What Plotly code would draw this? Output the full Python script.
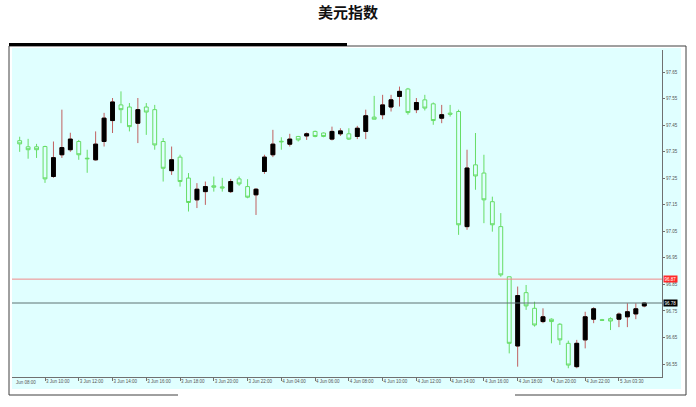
import plotly.graph_objects as go

# ---- data (30-minute bars) ----
opens = [97.392, 97.369, 97.369, 97.370, 97.257, 97.339, 97.358, 97.389, 97.326, 97.320,
         97.389, 97.468, 97.527, 97.519, 97.458, 97.519, 97.509, 97.389, 97.279, 97.330,
         97.251, 97.169, 97.200, 97.222, 97.218, 97.200, 97.248, 97.219, 97.188, 97.276,
         97.339, 97.390, 97.379, 97.408, 97.410, 97.427, 97.421, 97.398, 97.418, 97.418,
         97.408, 97.427, 97.481, 97.490, 97.519, 97.559, 97.587, 97.509, 97.546, 97.531,
         97.477, 97.496, 97.502, 97.068, 97.301, 97.270, 97.162, 97.068, 96.879, 96.618,
         96.819, 96.760, 96.710, 96.719, 96.700, 96.628, 96.540, 96.641, 96.719, 96.717,
         96.721, 96.719, 96.728, 96.739, 96.769]
highs = [97.407, 97.399, 97.380, 97.373, 97.389, 97.509, 97.422, 97.395, 97.358, 97.427,
         97.497, 97.553, 97.578, 97.534, 97.553, 97.534, 97.527, 97.402, 97.370, 97.339,
         97.270, 97.232, 97.238, 97.257, 97.252, 97.248, 97.257, 97.247, 97.213, 97.339,
         97.433, 97.405, 97.418, 97.410, 97.423, 97.430, 97.423, 97.445, 97.439, 97.439,
         97.448, 97.509, 97.561, 97.565, 97.565, 97.596, 97.591, 97.553, 97.565, 97.536,
         97.527, 97.527, 97.509, 97.358, 97.421, 97.339, 97.181, 97.119, 96.879, 96.842,
         96.848, 96.785, 96.760, 96.722, 96.704, 96.638, 96.641, 96.747, 96.764, 96.720,
         96.726, 96.744, 96.779, 96.779, 96.782]
lows = [97.350, 97.324, 97.327, 97.233, 97.252, 97.327, 97.350, 97.320, 97.271, 97.317,
        97.370, 97.421, 97.458, 97.427, 97.383, 97.414, 97.358, 97.238, 97.263, 97.219,
        97.125, 97.138, 97.150, 97.200, 97.200, 97.195, 97.222, 97.175, 97.112, 97.267,
        97.330, 97.358, 97.370, 97.389, 97.395, 97.405, 97.405, 97.393, 97.410, 97.395,
        97.398, 97.398, 97.473, 97.473, 97.502, 97.521, 97.490, 97.496, 97.506, 97.452,
        97.458, 97.483, 97.037, 97.056, 97.207, 97.081, 97.049, 96.879, 96.590, 96.540,
        96.754, 96.691, 96.704, 96.628, 96.622, 96.534, 96.534, 96.609, 96.704, 96.712,
        96.678, 96.689, 96.689, 96.719, 96.764]
closes = [97.380, 97.358, 97.358, 97.248, 97.328, 97.366, 97.398, 97.339, 97.324, 97.379,
          97.477, 97.538, 97.509, 97.445, 97.509, 97.500, 97.376, 97.288, 97.320, 97.238,
          97.159, 97.209, 97.219, 97.217, 97.214, 97.238, 97.229, 97.179, 97.209, 97.330,
          97.379, 97.388, 97.398, 97.395, 97.418, 97.408, 97.408, 97.427, 97.429, 97.398,
          97.439, 97.486, 97.473, 97.527, 97.546, 97.578, 97.498, 97.536, 97.515, 97.468,
          97.490, 97.492, 97.075, 97.289, 97.259, 97.169, 97.075, 96.886, 96.628, 96.808,
          96.769, 96.697, 96.728, 96.710, 96.641, 96.546, 96.628, 96.728, 96.758, 96.715,
          96.712, 96.738, 96.747, 96.758, 96.780]

tick_index = [3, 7, 11, 15, 19, 23, 27, 31, 35, 39, 43, 47, 51, 55, 59, 63, 67, 71]
tick_labels = ["3 Jun 10:00", "3 Jun 12:00", "3 Jun 14:00", "3 Jun 16:00", "3 Jun 18:00",
               "3 Jun 20:00", "3 Jun 22:00", "4 Jun 04:00", "4 Jun 06:00", "4 Jun 08:00",
               "4 Jun 10:00", "4 Jun 12:00", "4 Jun 14:00", "4 Jun 16:00", "4 Jun 18:00",
               "4 Jun 20:00", "4 Jun 22:00", "5 Jun 03:30"]
y_ticks = [96.55, 96.65, 96.75, 96.85, 96.95, 97.05, 97.15, 97.25, 97.35, 97.45, 97.55, 97.65]
ask_level = 96.87
bid_level = 96.78
title_text = "美元指数"

# ---- layout geometry (pixels) ----
W, H = 696, 407
L, R, T, B = 12, 662, 50, 377
BG = "#e0ffff"

def px(x):
    return (x - L) / (R - L)

def py(y):
    return (B - y) / (B - T)

xs = list(range(len(opens)))
body_hi = [max(o, c) for o, c in zip(opens, closes)]
body_lo = [min(o, c) for o, c in zip(opens, closes)]

fig = go.Figure()
# wicks + hollow bodies
fig.add_trace(go.Candlestick(
    x=xs, open=opens, high=highs, low=lows, close=closes,
    increasing=dict(line=dict(color="#c06060", width=1), fillcolor="black"),
    decreasing=dict(line=dict(color="#66dd66", width=1), fillcolor="rgba(0,0,0,0)"),
    whiskerwidth=0, hoverinfo="skip", showlegend=False,
))
# solid black bodies for rising bars
fig.add_trace(go.Candlestick(
    x=xs, open=opens, high=body_hi, low=body_lo, close=closes,
    increasing=dict(line=dict(color="black", width=1), fillcolor="black"),
    decreasing=dict(line=dict(color="rgba(0,0,0,0)", width=0), fillcolor="rgba(0,0,0,0)"),
    whiskerwidth=0, hoverinfo="skip", showlegend=False,
))

shapes = [
    # light cyan chart panel
    dict(type="rect", xref="paper", yref="paper", x0=px(12), x1=px(681), y0=py(389), y1=py(48),
         fillcolor=BG, line=dict(width=0), layer="below"),
    # frame
    dict(type="line", xref="paper", yref="paper", x0=px(9), x1=px(686), y0=py(46), y1=py(46),
         line=dict(color="#404040", width=1)),
    dict(type="rect", xref="paper", yref="paper", x0=px(9), x1=px(347), y0=py(46), y1=py(43),
         fillcolor="black", line=dict(width=0)),
    dict(type="line", xref="paper", yref="paper", x0=px(9), x1=px(9), y0=py(46), y1=py(395),
         line=dict(color="#404040", width=1)),
    dict(type="line", xref="paper", yref="paper", x0=px(686), x1=px(686), y0=py(46), y1=py(395),
         line=dict(color="#404040", width=1)),
    dict(type="line", xref="paper", yref="paper", x0=px(9), x1=px(178), y0=py(395), y1=py(395),
         line=dict(color="#404040", width=1)),
    dict(type="line", xref="paper", yref="paper", x0=px(515), x1=px(686), y0=py(395), y1=py(395),
         line=dict(color="#404040", width=1)),
    # price level lines
    dict(type="line", xref="paper", yref="y", x0=0, x1=1, y0=ask_level, y1=ask_level,
         line=dict(color="#f08a8a", width=1)),
    dict(type="line", xref="paper", yref="y", x0=0, x1=1, y0=bid_level, y1=bid_level,
         line=dict(color="#5f7373", width=1)),
]

small = dict(family="Liberation Sans", size=4.5, color="#555555")
annotations = [
    dict(text="<b>" + title_text + "</b>", xref="paper", yref="paper", x=px(348), y=py(12),
         xanchor="center", yanchor="middle", showarrow=False,
         font=dict(family="Noto Sans CJK SC", size=15, color="#111111")),
    dict(text=f"{ask_level:.2f}", xref="paper", yref="y", x=px(663), y=ask_level,
         xanchor="left", yanchor="middle", showarrow=False, bgcolor="#ff2a2a", borderpad=0.5,
         font=dict(family="Liberation Sans", size=4.5, color="white")),
    dict(text=f"{bid_level:.2f}", xref="paper", yref="y", x=px(663), y=bid_level,
         xanchor="left", yanchor="middle", showarrow=False, bgcolor="black", borderpad=0.5,
         font=dict(family="Liberation Sans", size=4.5, color="white")),
    dict(text="Jun 08:00", xref="paper", yref="paper", x=px(14), y=py(383),
         xanchor="left", yanchor="middle", showarrow=False, font=small),
]

fig.update_layout(
    width=W, height=H,
    margin=dict(l=L, r=W - R, t=T, b=H - B, pad=0),
    paper_bgcolor="white", plot_bgcolor=BG,
    shapes=shapes, annotations=annotations,
    showlegend=False, boxgap=0.35,
    xaxis=dict(
        range=[-0.91, 76.1], rangeslider=dict(visible=False),
        tickmode="array", tickvals=tick_index, ticktext=tick_labels,
        ticks="outside", ticklen=3, tickcolor="#707070", tickwidth=1,
        ticklabelposition="outside right",
        showline=True, linecolor="#707070", linewidth=1,
        showgrid=False, zeroline=False, tickfont=small,
    ),
    yaxis=dict(
        range=[96.501, 97.734], side="right",
        tickmode="array", tickvals=y_ticks, ticktext=[f"{v:.2f}" for v in y_ticks],
        ticks="outside", ticklen=2, tickcolor="#707070", tickwidth=1,
        showline=True, linecolor="#707070", linewidth=1,
        showgrid=False, zeroline=False, tickfont=small,
    ),
)

fig.write_html(
    "out.html",
    config={"displayModeBar": False},
    post_script="document.body.style.margin='0';document.body.style.overflow='hidden';",
)
